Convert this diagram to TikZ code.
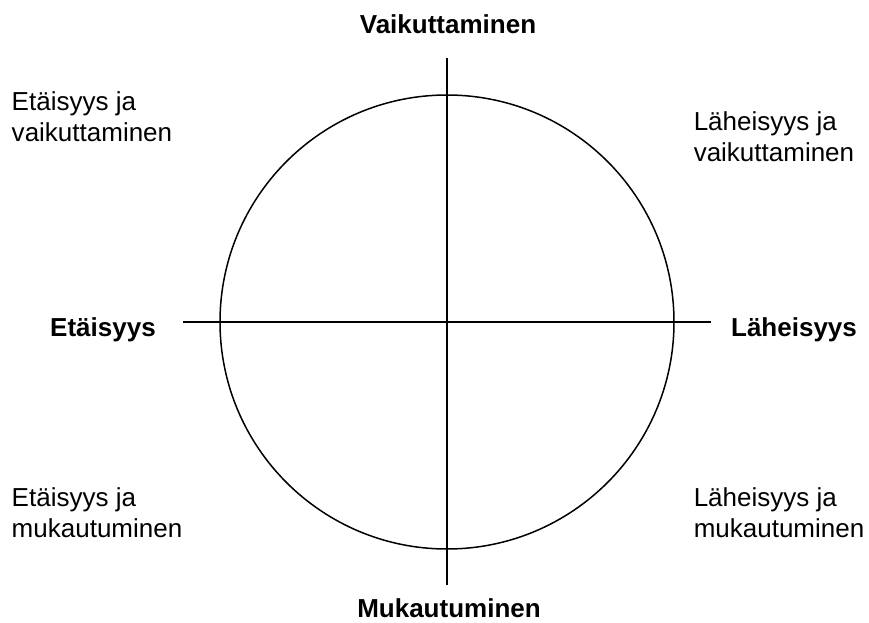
\documentclass[tikz,border=0pt]{standalone}
\usepackage{fontspec}
\setmainfont{Liberation Sans}
\usetikzlibrary{positioning}

\begin{document}
\begin{tikzpicture}[x=1pt, y=-1pt, line width=1.5pt,
  axlbl/.style={font=\fontsize{26}{31}\selectfont\bfseries, inner sep=0pt, anchor=base},
  qlbl/.style={font=\fontsize{26}{31}\selectfont, inner sep=0pt, anchor=base west, align=left}
]
  \useasboundingbox (0,0) rectangle (869,623);
  % circle and axes
  \node[draw, circle, minimum size=454pt, inner sep=0pt] (ring) at (447,322) {};
  \coordinate (ytop) at (447,58);
  \coordinate (ybot) at (447,585);
  \coordinate (xlft) at (183,322);
  \coordinate (xrgt) at (711,322);
  \draw (ytop) -- (ybot);
  \draw (xlft) -- (xrgt);
  % axis labels
  \node[axlbl] (vaik) at (448,34) {Vaikuttaminen};
  \node[axlbl] (muk) at (449,617) {Mukautuminen};
  \node[axlbl] (eta) at (103,336) {Etäisyys};
  \node[axlbl] (lah) at (794,336) {Läheisyys};
  % quadrant labels
  \node[qlbl] (etavaik) at (11,141) {Etäisyys ja\\vaikuttaminen};
  \node[qlbl] (lahvaik) at (693,161) {Läheisyys ja\\vaikuttaminen};
  \node[qlbl] (etamuk) at (11,537) {Etäisyys ja\\mukautuminen};
  \node[qlbl] (lahmuk) at (693,537) {Läheisyys ja\\mukautuminen};
\end{tikzpicture}
\end{document}
